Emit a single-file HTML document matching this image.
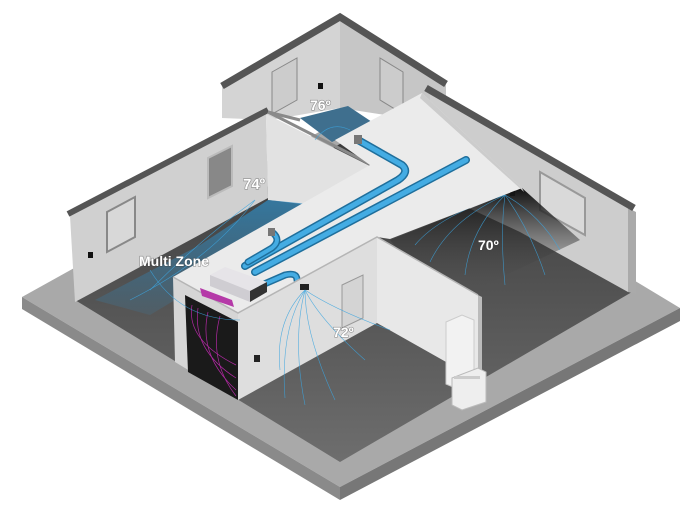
<!DOCTYPE html>
<html><head><meta charset="utf-8"><style>
html,body{margin:0;padding:0;background:#fff;}
svg{display:block;}
text{font-family:"Liberation Sans",sans-serif;font-weight:bold;fill:#fff;stroke:rgba(60,60,60,.45);stroke-width:1.2px;paint-order:stroke;}
</style></head><body>
<svg width="681" height="520" viewBox="0 0 681 520" xmlns="http://www.w3.org/2000/svg">
<defs>
<linearGradient id="fl" x1="0" y1="0" x2="0" y2="1"><stop offset="0" stop-color="#3a3a3a"/><stop offset="1" stop-color="#6e6e6e"/></linearGradient>
<linearGradient id="sh" x1="0" y1="0" x2="0" y2="1"><stop offset="0" stop-color="#111"/><stop offset="1" stop-color="#555" stop-opacity="0"/></linearGradient>
<linearGradient id="bl" x1="0" y1="0" x2="0" y2="1"><stop offset="0" stop-color="#2e8fc8" stop-opacity=".8"/><stop offset="1" stop-color="#2e8fc8" stop-opacity=".15"/></linearGradient>
</defs>
<polygon points="22,297 355,112 680,308 340,487" fill="#a9a9a9"/>
<polygon points="22,297 340,487 340,500 22,309" fill="#8a8a8a"/>
<polygon points="340,487 680,308 680,321 340,500" fill="#777"/>
<polygon points="75,300 350,138 632,292 340,462" fill="url(#fl)"/>
<polygon points="222,86 340,17 340,108 270,120 222,118" fill="#d4d4d4"/>
<polygon points="340,17 446,84 446,100 405,118 340,108" fill="#c6c6c6"/>
<polygon points="300,118 348,106 372,122 332,142" fill="#3f6f8e"/>
<polyline points="222,86 340,17 446,84" fill="none" stroke="#555" stroke-width="7"/>
<polygon points="272,72 297,58 297,100 272,114" fill="#ccc" stroke="#888"/>
<polygon points="380,58 403,72 403,114 380,100" fill="#ccc" stroke="#888"/>
<rect x="318" y="83" width="5" height="6" fill="#111"/>
<polygon points="70,216 266,114 268,198 75,302" fill="#d0d0d0"/>
<polygon points="266,114 370,166 370,212 268,200" fill="#e2e2e2"/>
<polygon points="95,300 200,245 268,200 370,210 300,260 175,300 150,315" fill="url(#bl)" opacity=".85"/>
<polyline points="68,214 268,110" stroke="#555" stroke-width="6"/>
<polyline points="268,112 372,165" stroke="#8a8a8a" stroke-width="3"/>
<polyline points="268,112 300,120" stroke="#8a8a8a" stroke-width="3"/>
<polygon points="107,212 135,197 135,237 107,252" fill="#d8d8d8" stroke="#888" stroke-width="2"/>
<polygon points="208,158 232,146 232,186 208,198" fill="#888" stroke="#bbb" stroke-width="2"/>
<rect x="88" y="252" width="5" height="6" fill="#111"/>
<polygon points="430,92 628,208 628,292 520,232 430,190" fill="#cdcdcd"/>
<polygon points="628,208 636,212 636,294 628,292" fill="#aaa"/>
<polyline points="426,88 634,208" stroke="#555" stroke-width="7"/>
<polygon points="540,172 585,198 585,235 540,210" fill="#d9d9d9" stroke="#999" stroke-width="2"/>
<rect x="510" y="190" width="5" height="6" fill="#111"/>
<polygon points="390,240 522,188 580,240 470,292 400,252" fill="url(#sh)"/>
<g stroke="#3ba5e0" stroke-width=".6" fill="none" opacity=".8">
<path d="M505,195 Q450,220 430,262"/><path d="M505,195 Q470,230 465,275"/><path d="M505,195 Q500,235 505,285"/><path d="M505,195 Q530,230 545,275"/><path d="M505,195 Q540,215 560,250"/><path d="M505,195 Q440,215 415,245"/>
</g>
<polygon points="370,165 335,140 422,93 522,188 390,239 377,237 238,313 173,277" fill="#ebebeb"/>
<polygon points="422,93 522,188 524,192 420,98" fill="#ccc"/>
<g fill="none" stroke-linecap="round">
<path d="M358,140 L402,165 Q410,172 398,180 L245,266" stroke="#1f6f9c" stroke-width="8"/>
<path d="M358,140 L402,165 Q410,172 398,180 L245,266" stroke="#44ace3" stroke-width="5"/>
<path d="M466,160 L255,272" stroke="#1f6f9c" stroke-width="8"/>
<path d="M466,160 L255,272" stroke="#44ace3" stroke-width="5"/>
<path d="M272,232 Q282,240 272,248 L248,262" stroke="#1f6f9c" stroke-width="7"/>
<path d="M272,232 Q282,240 272,248 L248,262" stroke="#44ace3" stroke-width="4"/>
<path d="M262,285 L285,275 Q297,272 297,280" stroke="#1f6f9c" stroke-width="7"/>
<path d="M262,285 L285,275 Q297,272 297,280" stroke="#44ace3" stroke-width="4"/>
</g>
<rect x="354" y="135" width="8" height="9" fill="#777"/>
<rect x="268" y="228" width="7" height="8" fill="#777"/>
<polygon points="173,277 238,313 238,400 175,362" fill="#d6d6d6"/>
<polygon points="185,295 238,322 238,400 188,372" fill="#1a1a1a"/>
<g stroke="#c02ab0" stroke-width=".7" fill="none" opacity=".9">
<path d="M192,305 Q186,340 236,365"/><path d="M198,308 Q192,350 236,378"/><path d="M208,312 Q198,355 236,390"/><path d="M220,316 Q208,360 236,396"/>
</g>
<polygon points="238,313 377,237 377,323 238,400" fill="#dedede"/>
<polygon points="377,237 478,295 478,380 377,323" fill="#e8e8e8"/>
<polygon points="478,295 482,297 482,380 478,380" fill="#bbb"/>
<polyline points="173,277 238,313 377,237 478,295" fill="none" stroke="#b5b5b5" stroke-width="1.5"/>
<polygon points="342,285 363,275 363,318 342,328" fill="#d4d4d4" stroke="#999"/>
<rect x="254" y="355" width="6" height="7" fill="#222"/>
<rect x="300" y="284" width="9" height="6" fill="#222"/>
<g stroke="#3ba5e0" stroke-width=".6" fill="none" opacity=".85">
<path d="M305,290 Q280,330 285,398"/><path d="M305,290 Q292,340 305,405"/><path d="M305,290 Q305,335 335,400"/><path d="M305,290 Q320,320 365,360"/><path d="M305,290 Q335,310 390,330"/><path d="M305,290 Q275,320 280,370"/>
<path d="M350,130 Q330,120 315,140"/><path d="M255,200 Q200,240 150,290"/><path d="M255,200 Q210,260 130,300"/><path d="M150,270 Q180,320 240,320"/>
</g>
<polygon points="210,275 225,267 267,282 250,291" fill="#e6e4e8"/>
<polygon points="250,291 267,282 267,292 250,302" fill="#333"/>
<polygon points="210,275 250,291 250,302 210,286" fill="#cfcdd2"/>
<polygon points="200,288 232,300 234,307 202,296" fill="#b53aa8"/>
<polygon points="446,322 462,315 474,320 474,385 460,390 446,384" fill="#f2f2f2" stroke="#ccc"/>
<polygon points="452,378 478,368 486,372 486,402 462,410 452,405" fill="#eee" stroke="#bbb"/>
<rect x="454" y="376" width="26" height="3" fill="#ccc"/>
<text x="310" y="110" font-size="14">76º</text>
<text x="243" y="189" font-size="15">74º</text>
<text x="139" y="266" font-size="14">Multi Zone</text>
<text x="478" y="250" font-size="14">70º</text>
<text x="333" y="337" font-size="14">72º</text>
</svg>
</body></html>
